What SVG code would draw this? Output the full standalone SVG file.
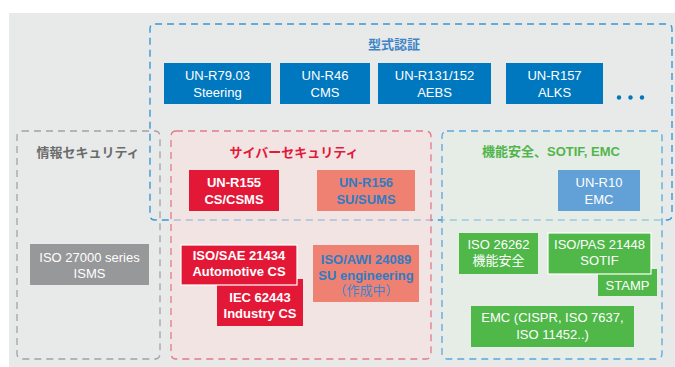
<svg xmlns="http://www.w3.org/2000/svg" width="675" height="367" viewBox="0 0 675 367">
<style>
text{font-family:"Liberation Sans","Noto Sans CJK JP",sans-serif;font-size:13px;text-anchor:middle}
.w{fill:#fff}
.b{font-weight:bold}
.st{fill:#2e7cc4;font-weight:bold}
.blue{fill:#0078c0}
.red{fill:#e31837}
.sal{fill:#ef8172}
.grn{fill:#4fb848}
.ttl{font-weight:bold}
</style>
<rect x="9" y="13" width="666" height="354" fill="#e8e9e9"/>
<!-- type approval frame -->
<g id="type-approval-frame">
<path d="M155,24 H667 Q672,24 672,29 V215 Q672,220 667,220 H155 Q150,220 150,215 V29 Q150,24 155,24 Z" fill="none" stroke="#3d97d5" stroke-width="1.4" stroke-dasharray="7 5"/>
<text x="394" y="49" class="ttl" fill="#3d85c6">型式認証</text>
</g>
<g id="infosec-group">
<rect x="17" y="131" width="143" height="228" rx="5" fill="none" stroke="#a3a3a3" stroke-width="1.3" stroke-dasharray="7 5"/>
<text x="88" y="157" class="ttl" fill="#6b6b6b">情報セキュリティ</text>
</g>
<g id="cyber-group">
<rect x="171" y="131" width="260" height="228" rx="5" fill="rgb(249,224,221)" fill-opacity="0.57" stroke="#e07b8c" stroke-width="1.3" stroke-dasharray="7 5"/>
<text x="294" y="157" class="ttl" fill="#e5173a">サイバーセキュリティ</text>
</g>
<g id="safety-group">
<rect x="442" y="131" width="220" height="228" rx="5" fill="rgb(228,240,228)" fill-opacity="0.57" stroke="#5aa8dc" stroke-width="1.3" stroke-dasharray="7 5"/>
<text x="551" y="156" class="ttl" fill="#52b54b">機能安全、SOTIF, EMC</text>
</g>
<g id="connectors"></g>
<g id="un-r79">
<rect x="164" y="63" width="107" height="41" class="blue"/>
<text x="217.5" y="80" class="w">UN-R79.03</text><text x="217.5" y="97" class="w">Steering</text>
</g>
<g id="un-r46">
<rect x="280" y="63" width="90" height="41" class="blue"/>
<text x="325" y="80" class="w">UN-R46</text><text x="325" y="97" class="w">CMS</text>
</g>
<g id="un-r131">
<rect x="378" y="63" width="113" height="41" class="blue"/>
<text x="434.5" y="80" class="w">UN-R131/152</text><text x="434.5" y="97" class="w">AEBS</text>
</g>
<g id="un-r157">
<rect x="506" y="63" width="97" height="41" class="blue"/>
<text x="554.5" y="80" class="w">UN-R157</text><text x="554.5" y="97" class="w">ALKS</text>
</g>
<g id="more" fill="#0078c0">
<circle cx="619" cy="97.5" r="2.2"/><circle cx="630.5" cy="97.5" r="2.2"/><circle cx="642" cy="97.5" r="2.2"/>
</g>
<g id="un-r155">
<rect x="189" y="170" width="90" height="41" class="red"/>
<text x="234" y="187" class="w b">UN-R155</text><text x="234" y="203.5" class="w b">CS/CSMS</text>
</g>
<g id="un-r156">
<rect x="317" y="170" width="98" height="41" class="sal"/>
<text x="366" y="187" class="st">UN-R156</text><text x="366" y="203.5" class="st">SU/SUMS</text>
</g>
<g id="un-r10">
<rect x="558" y="170" width="82" height="41" fill="#62a0d8"/>
<text x="599" y="187" class="w">UN-R10</text><text x="599" y="203.5" class="w">EMC</text>
</g>
<g id="iso27000">
<rect x="30" y="244" width="119" height="41" fill="#979899"/>
<text x="89.5" y="262" class="w">ISO 27000 series</text><text x="89.5" y="278" class="w">ISMS</text>
</g>
<g id="iec62443">
<rect x="217" y="279" width="86" height="47" class="red"/>
<text x="260" y="301.5" class="w b">IEC 62443</text><text x="260" y="317.5" class="w b">Industry CS</text>
</g>
<g id="iso21434">
<rect x="181" y="245" width="116" height="40" class="red" stroke="#fff" stroke-width="1.2"/>
<text x="239" y="259.5" class="w b">ISO/SAE 21434</text><text x="239" y="276" class="w b">Automotive CS</text>
</g>
<g id="iso24089">
<rect x="313" y="245" width="106" height="57" class="sal"/>
<text x="366" y="264" class="st">ISO/AWI 24089</text><text x="366" y="279.5" class="st">SU engineering</text>
<text x="366" y="294.5" fill="#3d86cc">（作成中）</text>
</g>
<g id="iso26262">
<rect x="459" y="233" width="79" height="41" class="grn"/>
<text x="498.5" y="248.5" class="w">ISO 26262</text><text x="498.5" y="265" class="w">機能安全</text>
</g>
<g id="stamp">
<rect x="598" y="269" width="59" height="27" class="grn"/>
<text x="627.5" y="290" class="w">STAMP</text>
</g>
<g id="iso21448">
<rect x="548" y="233" width="103" height="41" class="grn" stroke="#fff" stroke-width="1.2"/>
<text x="599.5" y="248.5" class="w">ISO/PAS 21448</text><text x="599.5" y="265" class="w">SOTIF</text>
</g>
<g id="emc">
<rect x="471" y="306" width="163" height="41" class="grn"/>
<text x="552.5" y="322" class="w">EMC (CISPR, ISO 7637,</text><text x="552.5" y="339" class="w">ISO 11452..)</text>
</g>
</svg>
